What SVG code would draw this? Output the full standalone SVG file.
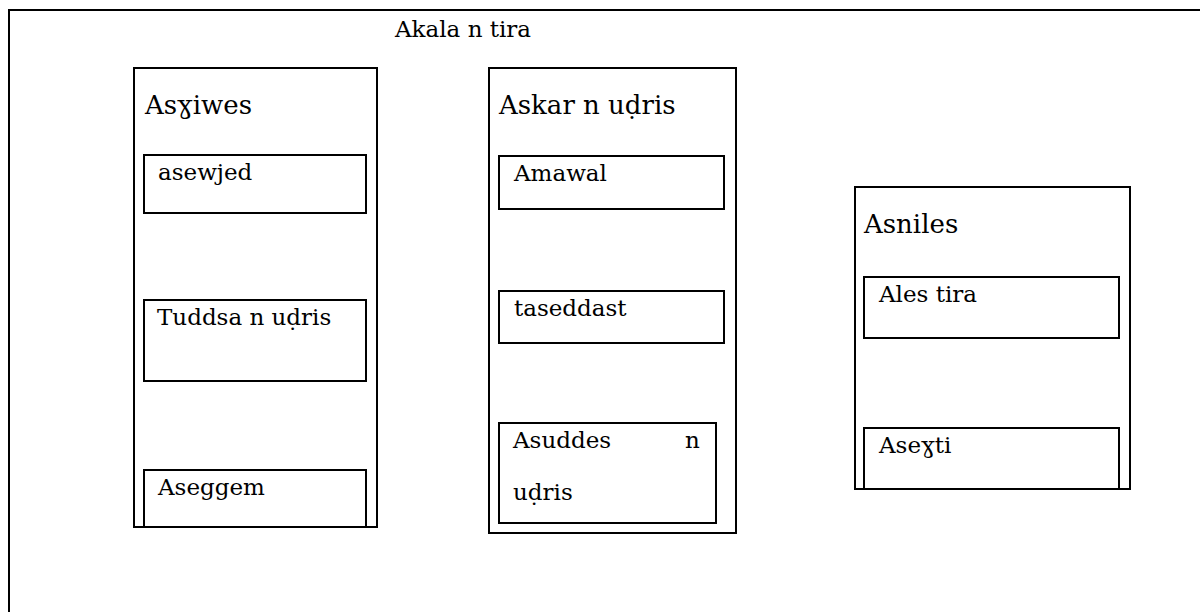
<svg xmlns="http://www.w3.org/2000/svg" width="1200" height="612" viewBox="0 0 1200 612">
<style>
.box{fill:none;stroke:#000;stroke-width:2}
text{font-family:'DejaVu Serif','Liberation Serif',serif;fill:#000}
.h{font-size:26px}
.c{font-size:23px}
</style>
<rect width="1200" height="612" fill="#fff"/>
<g id="frame">
<path class="box" d="M9 612 V10 H1201"/>
<text class="c" x="395" y="37">Akala n tira</text>
</g>
<g id="col-asghiwes">
<rect class="box" x="134" y="68" width="243" height="459"/>
<text class="h" x="145" y="114">Asɣiwes</text>
</g>
<g id="node-asewjed">
<rect class="box" x="144" y="155" width="222" height="58"/>
<text class="c" x="158" y="180">asewjed</text>
</g>
<g id="node-tuddsa">
<rect class="box" x="144" y="300" width="222" height="81"/>
<text class="c" x="157" y="325">Tuddsa n uḍris</text>
</g>
<g id="node-aseggem">
<rect class="box" x="144" y="470" width="222" height="57"/>
<text class="c" x="158" y="495">Aseggem</text>
</g>
<g id="col-askar">
<rect class="box" x="489" y="68" width="247" height="465"/>
<text class="h" x="499" y="114">Askar n uḍris</text>
</g>
<g id="node-amawal">
<rect class="box" x="499" y="156" width="225" height="53"/>
<text class="c" x="514" y="181">Amawal</text>
</g>
<g id="node-taseddast">
<rect class="box" x="499" y="291" width="225" height="52"/>
<text class="c" x="514" y="316">taseddast</text>
</g>
<g id="node-asuddes">
<rect class="box" x="499" y="423" width="217" height="100"/>
<text class="c" x="513" y="448">Asuddes</text>
<text class="c" x="685" y="448">n</text>
<text class="c" x="513" y="500">uḍris</text>
</g>
<g id="col-asniles">
<rect class="box" x="855" y="187" width="275" height="302"/>
<text class="h" x="864" y="233">Asniles</text>
</g>
<g id="node-ales">
<rect class="box" x="864" y="277" width="255" height="61"/>
<text class="c" x="879" y="302">Ales tira</text>
</g>
<g id="node-aseghti">
<rect class="box" x="864" y="428" width="255" height="61"/>
<text class="c" x="879" y="453">Aseɣti</text>
</g>
<g id="connectors"></g>
</svg>
